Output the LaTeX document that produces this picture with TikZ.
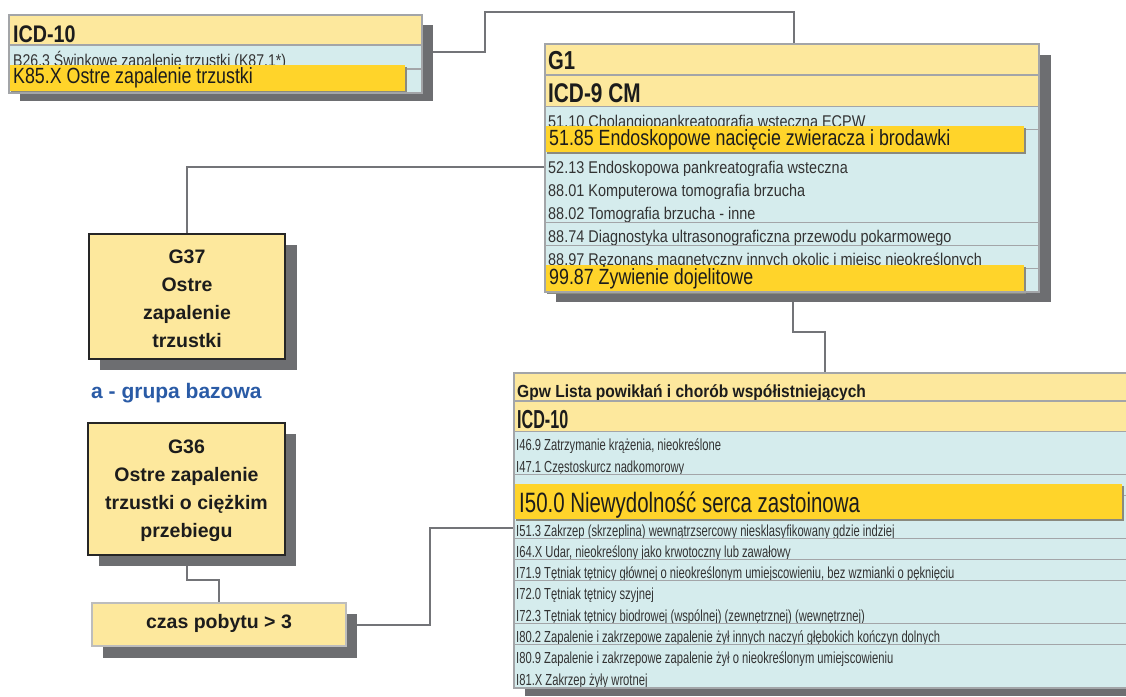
\documentclass[tikz,border=0pt]{standalone}
\usepackage{fontspec}
\usepackage{graphicx}
\setmainfont{Liberation Sans}
\usetikzlibrary{calc}
\pgfdeclarelayer{bg}
\pgfsetlayers{bg,main}

\definecolor{hdrY}{HTML}{FDE89D}
\definecolor{rowB}{HTML}{D5ECED}
\definecolor{barY}{HTML}{FFD42A}
\definecolor{barEdge}{HTML}{8A8A7E}
\definecolor{shadowG}{HTML}{6D6E71}
\definecolor{sepG}{HTML}{A3A5A8}
\definecolor{lineG}{HTML}{737478}
\definecolor{txtD}{HTML}{1C1C1C}
\definecolor{rowT}{HTML}{333333}
\definecolor{baseBlue}{HTML}{2A5BA6}
\definecolor{softFrame}{HTML}{BDBDBD}

% horizontally condensed text: {x-scale}{size}{text}
\newcommand\cond[3]{\scalebox{#1}[1]{\fontsize{#2}{#2}\selectfont #3}}
\newcommand\condb[3]{\scalebox{#1}[1]{\fontsize{#2}{#2}\selectfont\bfseries #3}}

\begin{document}
\begin{tikzpicture}[x=1pt,y=-1pt,
  cell/.style={rectangle,inner sep=0pt,outer sep=0pt,anchor=north west,draw=none},
  shade/.style={cell,fill=shadowG},
  hdr/.style={cell,fill=hdrY},
  row/.style={cell,fill=rowB},
  hl/.style={cell,fill=barY},
  hledge/.style={cell,fill=barEdge},
  frame/.style={cell,draw=sepG,line width=1.2pt},
  sep/.style={draw=sepG,line width=1.3pt},
  lbl/.style={anchor=base west,inner sep=0pt,text=txtD},
  rlbl/.style={anchor=base west,inner sep=0pt,text=rowT},
  conn/.style={draw=lineG,line width=2pt},
  grp/.style={cell,fill=hdrY,draw=black!85,line width=1.1pt},
  grpline/.style={anchor=base,inner sep=0pt,text=txtD,font=\fontsize{19.5}{19.5}\selectfont\bfseries}
]
\useasboundingbox (0,0) rectangle (1126,696);
\clip (0,0) rectangle (1126,696);

\coordinate (jA) at (485,12);
\coordinate (jB) at (825,332);
\coordinate (jD) at (200,580);
\coordinate (jE) at (430,600);

% ---------- ICD-10 list (top left) ----------
\node[shade,minimum width=413pt,minimum height=76pt] (Ash) at (20,25) {};
\node[hdr,minimum width=413pt,minimum height=30pt] (Ah) at (9,15) {};
\node[lbl] (Aht) at ([xshift=4pt,yshift=3pt]Ah.south west) {\condb{0.82}{24}{ICD-10}};
\node[row,minimum width=413pt,minimum height=24pt] (Ar0) at (9,45) {};
\node[rlbl] (Ar0t) at ([xshift=4pt,yshift=3pt]Ar0.south west) {\cond{0.83}{17}{B26.3 Świnkowe zapalenie trzustki (K87.1*)}};
\node[row,minimum width=413pt,minimum height=24pt] (Ar1) at (9,69) {};
\draw[sep] (Ah.south west) -- (Ah.south east);
\draw[sep] (Ar0.south west) -- (Ar0.south east);
\node[hledge,minimum width=396pt,minimum height=26pt] (Abe) at (10.5,66.5) {};
\node[hl,minimum width=396pt,minimum height=26pt] (Abar) at (9,65) {};
\node[lbl] (Abt) at ([xshift=4pt,yshift=-18pt]Abar.north west) {\cond{0.81}{22}{K85.X Ostre zapalenie trzustki}};
\node[frame,minimum width=413pt,minimum height=78pt] (A) at (9,15) {};

% ---------- G1 / ICD-9 CM list ----------
\node[shade,minimum width=495pt,minimum height=247pt] (Bsh) at (556,55) {};
\node[hdr,minimum width=494pt,minimum height=31pt] (Bh1) at (545,44) {};
\node[lbl] (Bh1t) at ([xshift=3pt,yshift=6pt]Bh1.south west) {\condb{0.78}{26}{G1}};
\node[hdr,minimum width=494pt,minimum height=32pt] (Bh2) at (545,75) {};
\node[lbl] (Bh2t) at ([xshift=3pt,yshift=5pt]Bh2.south west) {\condb{0.77}{27}{ICD-9 CM}};
\draw[sep] (Bh1.south west) -- (Bh1.south east);
\draw[sep] (Bh2.south west) -- (Bh2.south east);
\foreach \t [count=\i from 0] in {%
  {51.10 Cholangiopankreatografia wsteczna ECPW},
  {},
  {52.13 Endoskopowa pankreatografia wsteczna},
  {88.01 Komputerowa tomografia brzucha},
  {88.02 Tomografia brzucha - inne},
  {88.74 Diagnostyka ultrasonograficzna przewodu pokarmowego},
  {88.97 Rezonans magnetyczny innych okolic i miejsc nieokreślonych},
  {}}{
  \node[row,minimum width=494pt,minimum height=23.1pt] (g1r\i) at (545,{107+23.1*\i}) {};
  \node[rlbl] (g1t\i) at ([xshift=3pt,yshift=3pt]g1r\i.south west) {\cond{0.85}{17}{\t}};
  \draw[sep] (g1r\i.south west) -- (g1r\i.south east);
}
\node[hledge,minimum width=479pt,minimum height=26pt] (Bbe1) at (546.5,127.5) {};
\node[hl,minimum width=479pt,minimum height=26pt] (Bbar1) at (545,126) {};
\node[lbl] (Bbt1) at ([xshift=4pt,yshift=-19pt]Bbar1.north west) {\cond{0.81}{22}{51.85 Endoskopowe nacięcie zwieracza i brodawki}};
\node[hledge,minimum width=479pt,minimum height=27pt] (Bbe2) at (546.5,266.5) {};
\node[hl,minimum width=479pt,minimum height=27pt] (Bbar2) at (545,265) {};
\node[lbl] (Bbt2) at ([xshift=4pt,yshift=-19pt]Bbar2.north west) {\cond{0.81}{22}{99.87 Żywienie dojelitowe}};
\node[frame,minimum width=494pt,minimum height=248pt] (B) at (545,44) {};

% ---------- Gpw list ----------
\node[shade,minimum width=640pt,minimum height=312pt] (Fsh) at (525,384) {};
\node[hdr,minimum width=640pt,minimum height=28pt] (Fh1) at (514,373) {};
\node[lbl] (Fh1t) at ([xshift=3pt,yshift=4pt]Fh1.south west) {\condb{0.89}{17.5}{Gpw Lista powikłań i chorób współistniejących}};
\node[hdr,minimum width=640pt,minimum height=31pt] (Fh2) at (514,401) {};
\node[lbl] (Fh2t) at ([xshift=3pt,yshift=4pt]Fh2.south west) {\condb{0.62}{26}{ICD-10}};
\draw[sep] (Fh1.south west) -- (Fh1.south east);
\draw[sep] (Fh2.south west) -- (Fh2.south east);
\foreach \t [count=\i from 0] in {%
  {I46.9 Zatrzymanie krążenia, nieokreślone},
  {I47.1 Częstoskurcz nadkomorowy},
  {},
  {},
  {I51.3 Zakrzep (skrzeplina) wewnątrzsercowy niesklasyfikowany gdzie indziej},
  {I64.X Udar, nieokreślony jako krwotoczny lub zawałowy},
  {I71.9 Tętniak tętnicy głównej o nieokreślonym umiejscowieniu, bez wzmianki o pęknięciu},
  {I72.0 Tętniak tętnicy szyjnej},
  {I72.3 Tętniak tętnicy biodrowej (wspólnej) (zewnętrznej) (wewnętrznej)},
  {I80.2 Zapalenie i zakrzepowe zapalenie żył innych naczyń głębokich kończyn dolnych},
  {I80.9 Zapalenie i zakrzepowe zapalenie żył o nieokreślonym umiejscowieniu},
  {I81.X Zakrzep żyły wrotnej}}{
  \node[row,minimum width=640pt,minimum height=21.3pt] (gr\i) at (514,{432+21.3*\i}) {};
  \node[rlbl] (gt\i) at ([xshift=2pt,yshift=2.5pt]gr\i.south west) {\cond{0.70}{16}{\t}};
  \draw[sep] (gr\i.south west) -- (gr\i.south east);
}
\node[hledge,minimum width=608pt,minimum height=35pt] (Fbe) at (515.5,485.5) {};
\node[hl,minimum width=608pt,minimum height=35pt] (Fbar) at (514,484) {};
\node[lbl] (Fbt) at ([xshift=5pt,yshift=-28pt]Fbar.north west) {\cond{0.73}{28}{I50.0 Niewydolność serca zastoinowa}};
\node[frame,minimum width=640pt,minimum height=315pt] (F) at (514,373) {};

% ---------- group boxes ----------
\node[shade,minimum width=197pt,minimum height=125pt] (Csh) at (100,245) {};
\node[grp,minimum width=196pt,minimum height=125pt] (C) at (89,234) {};
\foreach \s [count=\k from 0] in {G37,Ostre,zapalenie,trzustki}
  \node[grpline] (Ct\k) at ([yshift={-29pt-28pt*\k}]C.north) {\s};

\node[anchor=base west,inner sep=0pt,text=baseBlue,font=\fontsize{21}{21}\selectfont\bfseries] (base) at (91,398) {a - grupa bazowa};

\node[shade,minimum width=197pt,minimum height=132pt] (Dsh) at (99,434) {};
\node[grp,minimum width=197pt,minimum height=132pt] (D) at (88,423) {};
\foreach \s [count=\k from 0] in {G36,Ostre zapalenie,trzustki o ciężkim,przebiegu}
  \node[grpline] (Dt\k) at ([yshift={-30pt-28pt*\k}]D.north) {\s};

\node[shade,minimum width=254pt,minimum height=44pt] (Esh) at (103,614) {};
\node[cell,fill=hdrY,draw=softFrame,line width=1.5pt,minimum width=254pt,minimum height=43pt] (E) at (92,603) {};
\node[grpline] (Et) at ([yshift=-25pt]E.north) {czas pobytu > 3};

% ---------- connectors ----------
\begin{pgfonlayer}{bg}
\draw[conn] ([yshift=11pt]Ash.east) -| (jA) -| ([xshift=2pt]B.north);
\draw[conn] (C.north) |- ([yshift=-2pt]g1r2.west);
\draw[conn] ([xshift=1pt]B.south) |- (jB) -- (jB |- F.north);
\draw[conn] (D.south) |- (jD) -| (E.north);
\draw[conn] (E.east) -| (jE) |- (gr4.west);
\end{pgfonlayer}
\end{tikzpicture}
\end{document}
